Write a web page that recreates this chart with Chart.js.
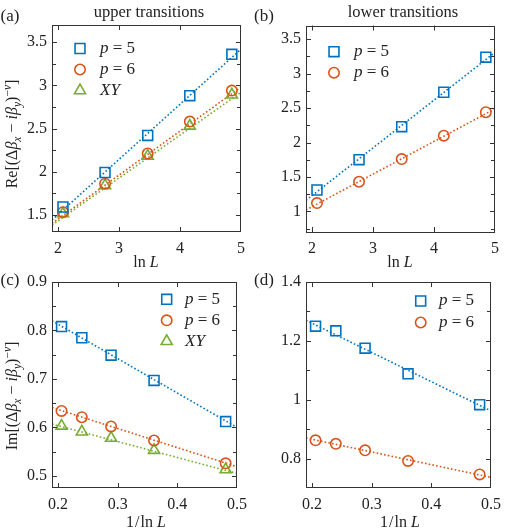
<!DOCTYPE html>
<html><head><meta charset="utf-8">
<script src="https://cdn.jsdelivr.net/npm/chart.js@4/dist/chart.umd.min.js"></script>
<style>
body{margin:0;background:#fff;}
#wrap{position:relative;width:508px;height:532px;font-family:"Liberation Serif",serif;color:#222;overflow:hidden;}
.pane{position:absolute;width:254px;height:266px;}
.pane canvas{display:block;}
.t{position:absolute;white-space:nowrap;font-size:16px;line-height:1;transform:translate(-50%,-50%);}
.rot{transform:translate(-50%,-50%) rotate(-90deg);}
i{font-style:italic;}
sub,sup{font-size:72%;line-height:0;}
</style></head><body>
<div id="wrap">
  <div class="pane" style="left:0;top:0"><canvas id="ca" width="254" height="266"></canvas></div>
  <div class="pane" style="left:254px;top:0"><canvas id="cb" width="254" height="266"></canvas></div>
  <div class="pane" style="left:0;top:266px"><canvas id="cc" width="254" height="266"></canvas></div>
  <div class="pane" style="left:254px;top:266px"><canvas id="cd" width="254" height="266"></canvas></div>

  <div class="t" style="left:10px;top:15px;font-size:17px">(a)</div>
  <div class="t" style="left:264px;top:15px;font-size:17px">(b)</div>
  <div class="t" style="left:10px;top:279px;font-size:17px">(c)</div>
  <div class="t" style="left:264px;top:279px;font-size:17px">(d)</div>

  <div class="t" style="left:149px;top:12px;font-size:16.5px">upper transitions</div>
  <div class="t" style="left:403px;top:12px;font-size:16.5px">lower transitions</div>

  <div class="t" style="left:146px;top:262px">ln<span style="display:inline-block;width:4px"></span><i>L</i></div>
  <div class="t" style="left:400px;top:262px">ln<span style="display:inline-block;width:4px"></span><i>L</i></div>
  <div class="t" style="left:146px;top:522px">1<span style="display:inline-block;width:1px"></span>/<span style="display:inline-block;width:1px"></span>ln<span style="display:inline-block;width:4px"></span><i>L</i></div>
  <div class="t" style="left:400px;top:522px">1<span style="display:inline-block;width:1px"></span>/<span style="display:inline-block;width:1px"></span>ln<span style="display:inline-block;width:4px"></span><i>L</i></div>

  <div class="t rot" style="left:12px;top:134px">Re[(Δ<i>β</i><sub><i>x</i></sub> − <i>iβ</i><sub><i>y</i></sub>)<sup>−<i>ν</i></sup>]</div>
  <div class="t rot" style="left:12px;top:396px">Im[(Δ<i>β</i><sub><i>x</i></sub> − <i>iβ</i><sub><i>y</i></sub>)<sup>−<i>ν</i></sup>]</div>
</div>
<script>
// ---------------- DATA ----------------
const lnL    = [2.08, 2.77, 3.47, 4.16, 4.85];          // ln L for L = 8,16,32,64,128
const invLnL = [0.481, 0.361, 0.289, 0.240, 0.206];     // 1/ln L

// (a) upper transitions, real part
const aP5 = [1.59, 1.99, 2.42, 2.88, 3.36];
const aP6 = [1.53, 1.86, 2.21, 2.58, 2.94];
const aXY = [1.515, 1.84, 2.18, 2.53, 2.89];
const aFitX = [1.9, 5];
const aFitP5 = [1.44, 3.42];
const aFitP6 = [1.40, 2.98];
const aFitXY = [1.38, 2.92];

// (b) lower transitions, real part
const bP5 = [1.31, 1.75, 2.23, 2.73, 3.24];
const bP6 = [1.12, 1.43, 1.76, 2.10, 2.44];
const bFitX = [1.9, 5];
const bFitP5 = [1.16, 3.31];
const bFitP6 = [1.02, 2.49];

// (c) upper transitions, imaginary part
const cP5 = [0.612, 0.697, 0.749, 0.785, 0.808];
const cP6 = [0.526, 0.573, 0.602, 0.621, 0.634];
const cXY = [0.513, 0.553, 0.578, 0.591, 0.603];
const cFitX = [0.19, 0.5];
const cFitP5 = [0.820, 0.600];
const cFitP6 = [0.641, 0.519];
const cFitXY = [0.607, 0.505];

// (d) lower transitions, imaginary part
const dP5 = [0.983, 1.088, 1.175, 1.234, 1.250];
const dP6 = [0.746, 0.792, 0.828, 0.850, 0.862];
const dFitX = [0.19, 0.5];
const dFitP5 = [1.27, 0.962];
const dFitP6 = [0.87, 0.736];

// tick values / labels
const lnLTicks = [2, 3, 4, 5];           const lnLLabels = ['2', '3', '4', '5'];
const invTicks = [0.2, 0.3, 0.4, 0.5];   const invLabels = ['0.2', '0.3', '0.4', '0.5'];
const aYTicks = [1.5, 2, 2.5, 3, 3.5];   const aYLabels = ['1.5', '2', '2.5', '3', '3.5'];
const aYMinor = [1.75, 2.25, 2.75, 3.25];
const bYTicks = [1, 1.5, 2, 2.5, 3, 3.5]; const bYLabels = ['1', '1.5', '2', '2.5', '3', '3.5'];
const bYMinor = [0.75, 1.25, 1.75, 2.25, 2.75, 3.25];
const cYTicks = [0.5, 0.6, 0.7, 0.8, 0.9]; const cYLabels = ['0.5', '0.6', '0.7', '0.8', '0.9'];
const cYMinor = [0.55, 0.65, 0.75, 0.85];
const dYTicks = [0.8, 1, 1.2, 1.4];      const dYLabels = ['0.8', '1', '1.2', '1.4'];
const dYMinor = [0.9, 1.1, 1.3];

// ---------------- STYLE ----------------
const BLUE = '#0072BD', RED = '#D95319', GREEN = '#77AC30';
const AXIS = '#333';
Chart.defaults.font.family = '"Liberation Serif", serif';
Chart.defaults.font.size = 16;
Chart.defaults.color = '#222';

function pts(xs, ys) { return xs.map((x, i) => ({ x: x, y: ys[i] })); }

function markers(label, parts, xs, ys, color, style, r) {
  return {
    label: label, legendParts: parts, isMarker: true,
    data: pts(xs, ys), showLine: false,
    borderColor: color, backgroundColor: 'rgba(0,0,0,0)',
    pointStyle: style, pointRadius: r, pointHoverRadius: r, pointBorderWidth: 1.6,
    order: 0
  };
}
function fit(xs, ys, color) {
  return {
    label: '', data: pts(xs, ys), showLine: true,
    borderColor: color, borderWidth: 1.6, borderDash: [1.6, 2.2],
    pointRadius: 0, pointHoverRadius: 0, fill: false, order: 1
  };
}

function scale(min, max, major, labels, minor, pad, fitSize, isX) {
  return {
    type: 'linear', min: min, max: max,
    afterBuildTicks: s => {
      s.ticks = major.concat(minor).sort((p, q) => p - q).map(v => ({ value: v, major: major.indexOf(v) >= 0 }));
    },
    ticks: {
      autoSkip: false, maxRotation: 0, padding: pad, color: '#222',
      font: { size: 16, family: '"Liberation Serif", serif' },
      callback: v => { const k = major.indexOf(v); return k >= 0 ? labels[k] : ''; }
    },
    grid: { display: false, drawTicks: false },
    border: { display: false },
    afterFit: s => { if (isX) s.height = fitSize; else s.width = fitSize; }
  };
}

const framePlugin = {
  id: 'frame',
  afterDraw(chart) {
    const ctx = chart.ctx, a = chart.chartArea, xs = chart.scales.x, ys = chart.scales.y;
    ctx.save();
    ctx.strokeStyle = AXIS; ctx.lineWidth = 1;
    ctx.strokeRect(Math.round(a.left) + 0.5, Math.round(a.top) + 0.5,
                   Math.round(a.right - a.left) - 1, Math.round(a.bottom - a.top) - 1);
    ctx.beginPath();
    xs.ticks.forEach(t => {
      const L = t.major ? 5 : 4;
      const px = Math.round(xs.getPixelForValue(t.value)) + 0.5;
      if (px < a.left + 1 || px > a.right - 1) return;
      ctx.moveTo(px, a.bottom); ctx.lineTo(px, a.bottom - L);
      ctx.moveTo(px, a.top); ctx.lineTo(px, a.top + L);
    });
    ys.ticks.forEach(t => {
      const L = t.major ? 5 : 4;
      const py = Math.round(ys.getPixelForValue(t.value)) + 0.5;
      if (py < a.top + 1 || py > a.bottom - 1) return;
      ctx.moveTo(a.left, py); ctx.lineTo(a.left + L, py);
      ctx.moveTo(a.right, py); ctx.lineTo(a.right - L, py);
    });
    ctx.stroke();
    ctx.restore();
  }
};

function drawMarker(ctx, style, x, y, r) {
  ctx.beginPath();
  if (style === 'rect') {
    const s = r * Math.SQRT1_2; ctx.rect(x - s, y - s, 2 * s, 2 * s);
  } else if (style === 'circle') {
    ctx.arc(x, y, r, 0, 2 * Math.PI);
  } else {
    for (let k = 0; k < 3; k++) {
      const ang = k * 2 * Math.PI / 3;
      const px = x + Math.sin(ang) * r, py = y - Math.cos(ang) * r;
      if (k === 0) ctx.moveTo(px, py); else ctx.lineTo(px, py);
    }
    ctx.closePath();
  }
  ctx.stroke();
}

const legendPlugin = {
  id: 'inLegend',
  afterDraw(chart, args, opts) {
    const ctx = chart.ctx;
    let row = 0;
    ctx.save();
    chart.data.datasets.forEach(ds => {
      if (!ds.isMarker) return;
      const y = opts.y0 + row * opts.dy;
      ctx.strokeStyle = ds.borderColor; ctx.lineWidth = 1.6;
      drawMarker(ctx, ds.pointStyle, opts.x, y, ds.pointRadius);
      let tx = opts.textX;
      ctx.fillStyle = '#222'; ctx.textBaseline = 'middle'; ctx.textAlign = 'left';
      ds.legendParts.forEach(p => {
        ctx.font = (p[1] ? 'italic ' : '') + '17px "Liberation Serif", serif';
        ctx.fillText(p[0], tx, y);
        tx += ctx.measureText(p[0]).width;
      });
      row++;
    });
    ctx.restore();
  }
};

const P5 = [['p', true], [' = 5', false]];
const P6 = [['p', true], [' = 6', false]];
const XY = [['XY', true]];
const RS = 7, RC = 5.2, RT = 6.4;

function make(id, datasets, xScale, yScale, padTop, leg) {
  new Chart(document.getElementById(id), {
    type: 'scatter',
    data: { datasets: datasets },
    options: {
      responsive: false, animation: false, events: [],
      layout: { padding: { left: 0, right: 13, top: padTop, bottom: 0 } },
      scales: { x: xScale, y: yScale },
      plugins: { legend: { display: false }, tooltip: { enabled: false }, title: { display: false }, inLegend: leg }
    },
    plugins: [framePlugin, legendPlugin]
  });
}

make('ca', [
  fit(aFitX, aFitP5, BLUE), fit(aFitX, aFitP6, RED), fit(aFitX, aFitXY, GREEN),
  markers('p = 5', P5, lnL, aP5, BLUE, 'rect', RS),
  markers('p = 6', P6, lnL, aP6, RED, 'circle', RC),
  markers('XY', XY, lnL, aXY, GREEN, 'triangle', RT)
], scale(1.9, 5, lnLTicks, lnLLabels, [], 7, 34, true),
   scale(1.3, 3.7, aYTicks, aYLabels, aYMinor, 5, 52, false), 25,
   { x: 80, y0: 48.5, dy: 21, textX: 100 });

make('cb', [
  fit(bFitX, bFitP5, BLUE), fit(bFitX, bFitP6, RED),
  markers('p = 5', P5, lnL, bP5, BLUE, 'rect', RS),
  markers('p = 6', P6, lnL, bP6, RED, 'circle', RC)
], scale(1.9, 5, lnLTicks, lnLLabels, [], 7, 34, true),
   scale(0.7, 3.7, bYTicks, bYLabels, bYMinor, 5, 52, false), 25.5,
   { x: 80, y0: 51.7, dy: 21, textX: 100 });

make('cc', [
  fit(cFitX, cFitP5, BLUE), fit(cFitX, cFitP6, RED), fit(cFitX, cFitXY, GREEN),
  markers('p = 5', P5, invLnL, cP5, BLUE, 'rect', RS),
  markers('p = 6', P6, invLnL, cP6, RED, 'circle', RC),
  markers('XY', XY, invLnL, cXY, GREEN, 'triangle', RT)
], scale(0.19, 0.5, invTicks, invLabels, [], 7, 44, true),
   scale(0.475, 0.9, cYTicks, cYLabels, cYMinor, 5, 52, false), 16,
   { x: 166.7, y0: 33.3, dy: 21, textX: 185 });

make('cd', [
  fit(dFitX, dFitP5, BLUE), fit(dFitX, dFitP6, RED),
  markers('p = 5', P5, invLnL, dP5, BLUE, 'rect', RS),
  markers('p = 6', P6, invLnL, dP6, RED, 'circle', RC)
], scale(0.19, 0.5, invTicks, invLabels, [], 7, 44, true),
   scale(0.7, 1.4, dYTicks, dYLabels, dYMinor, 5, 52, false), 16,
   { x: 166.7, y0: 35, dy: 21.5, textX: 185 });
</script>
</body></html>
